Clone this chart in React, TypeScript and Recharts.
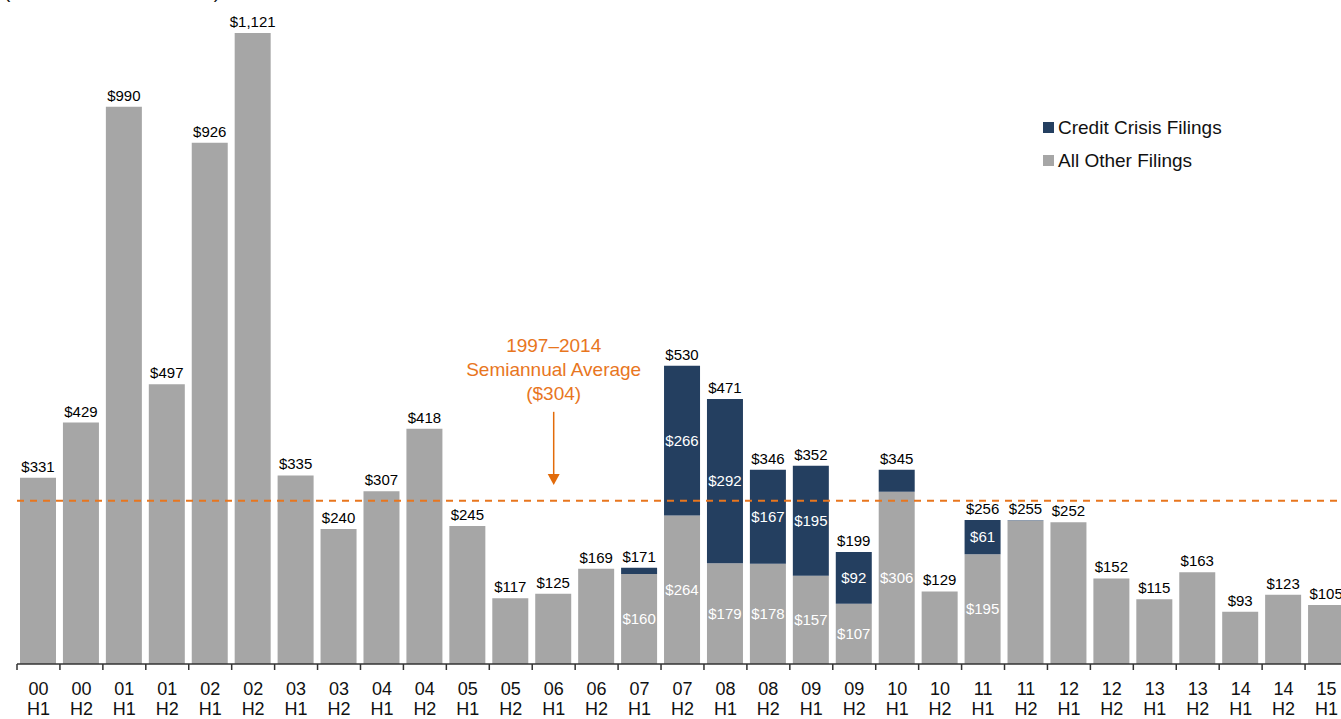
import { Bar, BarChart, LabelList, ReferenceLine, XAxis, YAxis } from "recharts";

const periods = [
  "00 H1", "00 H2", "01 H1", "01 H2", "02 H1", "02 H2", "03 H1", "03 H2",
  "04 H1", "04 H2", "05 H1", "05 H2", "06 H1", "06 H2", "07 H1", "07 H2",
  "08 H1", "08 H2", "09 H1", "09 H2", "10 H1", "10 H2", "11 H1", "11 H2",
  "12 H1", "12 H2", "13 H1", "13 H2", "14 H1", "14 H2", "15 H1",
];

const otherFilings = [
  331, 429, 990, 497, 926, 1121, 335, 240, 307, 418, 245, 117, 125, 169, 160, 264,
  179, 178, 157, 107, 306, 129, 195, 254, 252, 152, 115, 163, 93, 123, 105,
];

const creditCrisis = [
  0, 0, 0, 0, 0, 0, 0, 0, 0, 0, 0, 0, 0, 0, 11, 266,
  292, 167, 195, 92, 39, 0, 61, 1, 0, 0, 0, 0, 0, 0, 0,
];

const totals = [
  331, 429, 990, 497, 926, 1121, 335, 240, 307, 418, 245, 117, 125, 169, 171, 530,
  471, 346, 352, 199, 345, 129, 256, 255, 252, 152, 115, 163, 93, 123, 105,
];

// inner labels shown only on the credit-crisis era bars
const otherInner = [
  null, null, null, null, null, null, null, null, null, null, null, null, null, null, 160, 264,
  179, 178, 157, 107, 306, null, 195, null, null, null, null, null, null, null, null,
];
const crisisInner = [
  null, null, null, null, null, null, null, null, null, null, null, null, null, null, null, 266,
  292, 167, 195, 92, null, null, 61, null, null, null, null, null, null, null, null,
];

const AVERAGE_LINE = 290;
const arrowFrom = 448;
const arrowTo = 318;
const arrowAt = "06 H1";

const data = periods.map((p, i) => ({
  period: p,
  other: otherFilings[i],
  crisis: creditCrisis[i],
  otherTag: otherInner[i],
  crisisTag: crisisInner[i],
  // total goes on whichever segment is on top
  totalOnOther: creditCrisis[i] > 0 ? null : totals[i],
  totalOnCrisis: creditCrisis[i] > 0 ? totals[i] : null,
}));

const FONT = "Arial, 'Liberation Sans', sans-serif";
const GRAY = "#A6A6A6";
const NAVY = "#243F60";
const ORANGE = "#E8761E";

const money = (v: number) => "$" + v.toLocaleString("en-US");

function PeriodTick(props: any) {
  const { x, y, payload } = props;
  const half = payload && payload.offset ? payload.offset : 21.5;
  const [yr, h] = String(payload.value).split(" ");
  return (
    <g>
      <line x1={x - half} x2={x - half} y1={y} y2={y + 6} stroke="#333" strokeWidth={1.5} />
      <text x={x} y={y + 31} textAnchor="middle" fontSize={18} fontFamily={FONT} fill="#111">
        {yr}
      </text>
      <text x={x} y={y + 51} textAnchor="middle" fontSize={18} fontFamily={FONT} fill="#111">
        {h}
      </text>
    </g>
  );
}

function TotalLabel(props: any) {
  const { x, y, width, value } = props;
  if (value == null) return null;
  return (
    <text x={x + width / 2} y={y - 6} textAnchor="middle" fontSize={15} fontFamily={FONT} fill="#000">
      {money(value)}
    </text>
  );
}

function InnerLabel(props: any) {
  const { x, y, width, height, value } = props;
  if (value == null) return null;
  return (
    <text
      x={x + width / 2}
      y={y + height / 2 + 5}
      textAnchor="middle"
      fontSize={15}
      fontFamily={FONT}
      fill="#fff"
    >
      {money(value)}
    </text>
  );
}

function AverageArrow(props: any) {
  const { x1, y1, y2 } = props;
  if (x1 == null) return null;
  const lines = ["1997\u20132014", "Semiannual Average", "($304)"];
  return (
    <g>
      {lines.map((t, i) => (
        <text
          key={t}
          x={x1}
          y={y1 - 60 + i * 24}
          textAnchor="middle"
          fontSize={19}
          fontFamily={FONT}
          fill={ORANGE}
        >
          {t}
        </text>
      ))}
      <line x1={x1} x2={x1} y1={y1} y2={y2 - 10} stroke="#E26B0A" strokeWidth={1.5} />
      <polygon points={`${x1 - 6},${y2 - 11} ${x1 + 6},${y2 - 11} ${x1},${y2}`} fill="#E26B0A" />
    </g>
  );
}

const legendItems = [
  { name: "Credit Crisis Filings", color: NAVY },
  { name: "All Other Filings", color: GRAY },
];

export default function App() {
  return (
    <div
      style={{
        position: "absolute",
        left: 0,
        top: 0,
        width: 1341,
        height: 719,
        overflow: "hidden",
        background: "#fff",
        fontFamily: FONT,
      }}
    >
      <div
        style={{
          position: "absolute",
          left: 4,
          top: -19,
          fontSize: 19,
          color: "#111",
          whiteSpace: "nowrap",
        }}
      >
        (Dollar Value in $ Billions)
      </div>
      <BarChart
        width={1348}
        height={719}
        data={data}
        margin={{ top: 33, right: 0, left: 17, bottom: 0 }}
        barSize={36}
      >
        <XAxis
          dataKey="period"
          height={55}
          interval={0}
          tickLine={false}
          tickSize={0}
          tickMargin={0}
          axisLine={{ stroke: "#333", strokeWidth: 1.5 }}
          tick={<PeriodTick />}
        />
        <YAxis hide domain={[0, 1121]} />
        <Bar dataKey="other" stackId="a" fill={GRAY} isAnimationActive={false}>
          <LabelList dataKey="otherTag" content={<InnerLabel />} />
          <LabelList dataKey="totalOnOther" content={<TotalLabel />} />
        </Bar>
        <Bar dataKey="crisis" stackId="a" fill={NAVY} isAnimationActive={false}>
          <LabelList dataKey="crisisTag" content={<InnerLabel />} />
          <LabelList dataKey="totalOnCrisis" content={<TotalLabel />} />
        </Bar>
        <ReferenceLine
          y={AVERAGE_LINE}
          stroke="#E8761E"
          strokeWidth={2}
          strokeDasharray="7 6"
        />
        <ReferenceLine
          segment={[
            { x: arrowAt, y: arrowFrom },
            { x: arrowAt, y: arrowTo },
          ]}
          shape={<AverageArrow />}
        />
      </BarChart>
      <div style={{ position: "absolute", left: 1043, top: 111 }}>
        {legendItems.map((it) => (
          <div
            key={it.name}
            style={{ display: "flex", alignItems: "center", height: 33, fontSize: 19, color: "#111" }}
          >
            <span
              style={{ width: 11, height: 11, background: it.color, marginRight: 4, display: "inline-block" }}
            />
            {it.name}
          </div>
        ))}
      </div>
    </div>
  );
}
